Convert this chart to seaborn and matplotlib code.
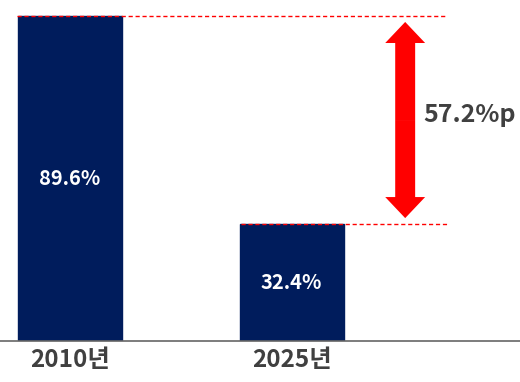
import matplotlib
matplotlib.use("Agg")
import matplotlib.pyplot as plt
import seaborn as sns
import pandas as pd
from matplotlib.patches import FancyArrow

years = ["2010년", "2025년"]
values = [89.6, 32.4]
value_labels = ["89.6%", "32.4%"]
gap_label = "57.2%p"

sns.set_theme(style="white")
plt.rcParams['font.family'] = ['Noto Sans CJK KR', 'DejaVu Sans']

df = pd.DataFrame({"year": years, "value": values})

fig = plt.figure(figsize=(5.2, 3.82), dpi=100)
ax = fig.add_axes([0, 0.107, 1, 0.893])
sns.barplot(data=df, x="year", y="value", color="#001c5c", width=0.47, ax=ax,
            saturation=1, edgecolor="#001c5c")

ax.set_xlim(-0.316, 2.03)
ax.set_ylim(0, 94)
for s in ["top", "right", "left"]:
    ax.spines[s].set_visible(False)
ax.spines["bottom"].set_color("#666666")
ax.spines["bottom"].set_linewidth(1.2)
ax.set_yticks([])
ax.set_xlabel("")
ax.set_ylabel("")
ax.tick_params(axis="x", length=0, pad=5, labelsize=17.5, labelcolor="#404040")
for t in ax.get_xticklabels():
    t.set_fontweight("bold")

for i, (v, lab) in enumerate(zip(values, value_labels)):
    ax.text(i, v / 2, lab, ha="center", va="center", color="white",
            fontsize=14.5, fontweight="bold")

# dashed guide lines
ax.plot([-0.24, 1.700], [values[0], values[0]], ls=(0, (3, 2)), color="red", lw=1.0)
ax.plot([0.77, 1.700], [values[1], values[1]], ls=(0, (3, 2)), color="red", lw=1.0)

# double-headed arrow
xc = 1.512
top_tip = values[0] - 1.65
bot_tip = values[1] + 1.5
mid = (top_tip + bot_tip) / 2
hl = 5.8
for end in (top_tip, bot_tip):
    ax.add_patch(FancyArrow(xc, mid, 0, end - mid, width=0.09, head_width=0.18,
                            head_length=hl, length_includes_head=True,
                            color="red", lw=0))

ax.text(1.594, 60.4, gap_label, ha="left", va="baseline", color="#404040",
        fontsize=18, fontweight="bold")

fig.savefig("out.png", dpi=100)
